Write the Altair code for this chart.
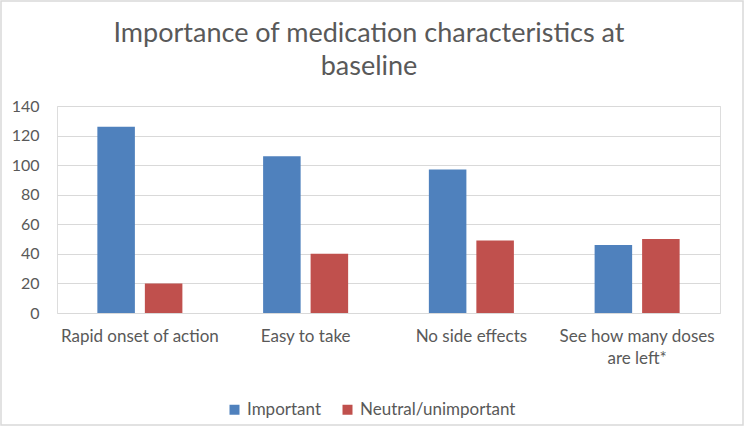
import altair as alt
import pandas as pd

# Survey counts per medication characteristic
categories = [
    "Rapid onset of action",
    "Easy to take",
    "No side effects",
    "See how many doses are left*",
]
important = [126, 106, 97, 46]
neutral_unimportant = [20, 40, 49, 50]
series = ["Important", "Neutral/unimportant"]
colors = ["#4F81BD", "#C0504D"]
y_ticks = [0, 20, 40, 60, 80, 100, 120, 140]
title_lines = ["Importance of medication characteristics at", "baseline"]

rows = []
for cat, a, b in zip(categories, important, neutral_unimportant):
    rows.append({"category": cat, "series": series[0], "count": a})
    rows.append({"category": cat, "series": series[1], "count": b})
df = pd.DataFrame(rows)

FONT = "Lato"
TEXT = "#595959"
GRID = "#D9D9D9"
W, H = 663, 207

bars = alt.Chart(df).mark_bar().encode(
    x=alt.X(
        "category:N",
        sort=categories,
        scale=alt.Scale(paddingInner=0.487, paddingOuter=0.2435),
        axis=alt.Axis(
            title=None,
            labelAngle=0,
            ticks=False,
            domain=False,
            grid=False,
            labelFont=FONT,
            labelFontSize=17,
            labelColor=TEXT,
            labelPadding=15,
            labelLineHeight=22,
            labelExpr="datum.label == 'See how many doses are left*' ? ['See how many doses', 'are left*'] : datum.label",
        ),
    ),
    xOffset=alt.XOffset(
        "series:N",
        sort=series,
        scale=alt.Scale(paddingInner=0.21, paddingOuter=0),
    ),
    y=alt.Y(
        "count:Q",
        scale=alt.Scale(domain=[0, 140], nice=False),
        axis=alt.Axis(
            title=None,
            values=y_ticks,
            ticks=False,
            domain=False,
            gridColor=GRID,
            gridWidth=1,
            labelFont=FONT,
            labelFontSize=16,
            labelColor=TEXT,
            labelPadding=18,
        ),
    ),
    color=alt.Color(
        "series:N",
        sort=series,
        scale=alt.Scale(domain=series, range=colors),
        legend=alt.Legend(
            title=None,
            orient="none",
            direction="horizontal",
            legendX=169,
            legendY=295,
            symbolType="square",
            symbolSize=100,
            symbolStrokeWidth=0,
            labelFont=FONT,
            labelFontSize=17,
            labelColor=TEXT,
            labelOffset=4,
            columnPadding=18,
        ),
    ),
)

# Two-line chart heading drawn as text above the plot area
title_df = pd.DataFrame({"line": title_lines, "dy": [-64, -31]})
heading = alt.Chart(title_df).mark_text(
    font=FONT, fontSize=27, color=TEXT, align="center", baseline="alphabetic"
).encode(
    text="line:N",
    x=alt.value(312),
    y=alt.Y("dy:Q", scale=None, axis=None),
)

# Light frame around the whole figure
frame = alt.Chart(pd.DataFrame({"k": [0]})).mark_rect(
    fillOpacity=0, stroke=GRID, strokeWidth=1.5
).encode(
    x=alt.value(-56),
    x2=alt.value(W + 23),
    y=alt.value(-105),
    y2=alt.value(H + 112),
)

chart = (
    alt.layer(bars, heading, frame)
    .resolve_scale(y="independent")
    .properties(
        width=W,
        height=H,
        autosize=alt.AutoSizeParams(type="none"),
        padding={"left": 57, "top": 106, "right": 24, "bottom": 113},
    )
    .configure_view(stroke=None)
    .configure(background="white")
)

chart.save("out.html", embed_options={"renderer": "svg", "actions": False})
